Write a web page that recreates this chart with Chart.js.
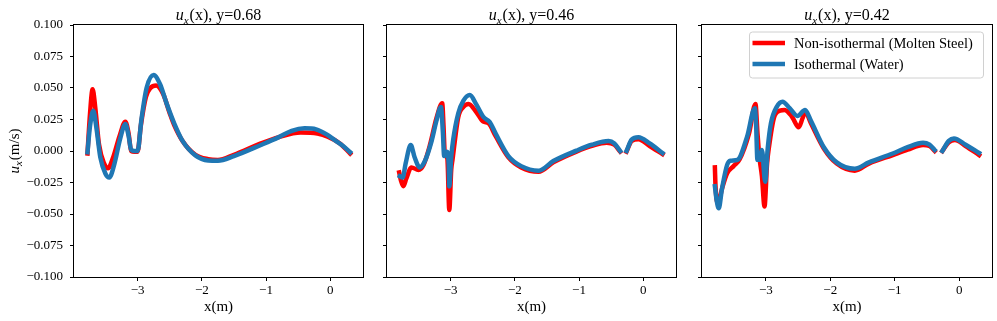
<!DOCTYPE html>
<html>
<head>
<meta charset="utf-8">
<script src="https://cdn.jsdelivr.net/npm/chart.js@4.4.1/dist/chart.umd.min.js"></script>
<style>
  html, body { margin: 0; padding: 0; background: #fff; }
  #wrap { position: relative; width: 997px; height: 321px; }
  .panel { position: absolute; top: 0; }
</style>
</head>
<body>
<div id="wrap">
  <div class="panel" style="left:0px"><canvas id="c1" width="370" height="321"></canvas></div>
  <div class="panel" style="left:377px"><canvas id="c2" width="303" height="321"></canvas></div>
  <div class="panel" style="left:692px"><canvas id="c3" width="305" height="321"></canvas></div>
</div>
<script>
// ticks
const xTicks = [-3, -2, -1, 0];
const yMin = -0.1, yMax = 0.1, yStep = 0.025;

// y = 0.68
const red68X = [-3.78, -3.74, -3.70, -3.66, -3.60, -3.52, -3.46, -3.38, -3.28, -3.19, -3.14, -3.10, -3.05, -3.00, -2.95, -2.87, -2.80, -2.71, -2.60, -2.50, -2.43, -2.30, -2.10, -1.90, -1.75, -1.50, -1.08, -0.80, -0.46, -0.20, -0.04, 0.15, 0.31];
const red68U = [-0.002, 0.030, 0.049, 0.035, 0.005, -0.010, -0.0137, -0.005, 0.012, 0.0233, 0.014, 0.000, -0.0005, -0.0005, 0.020, 0.043, 0.050, 0.052, 0.045, 0.030, 0.0206, 0.008, -0.003, -0.0065, -0.0071, -0.003, 0.006, 0.011, 0.0146, 0.0138, 0.0114, 0.006, -0.002];
const blue68X = [-3.78, -3.74, -3.69, -3.64, -3.58, -3.50, -3.44, -3.36, -3.27, -3.19, -3.14, -3.10, -3.05, -3.00, -2.94, -2.86, -2.75, -2.65, -2.55, -2.43, -2.30, -2.10, -1.90, -1.75, -1.50, -1.08, -0.80, -0.60, -0.40, -0.22, -0.05, 0.06, 0.20, 0.31];
const blue68U = [-0.001, 0.020, 0.032, 0.018, -0.005, -0.018, -0.021, -0.010, 0.010, 0.0214, 0.012, 0.001, 0.000, 0.000, 0.025, 0.050, 0.0603, 0.053, 0.038, 0.022, 0.008, -0.0035, -0.0075, -0.0077, -0.004, 0.0048, 0.011, 0.0160, 0.0180, 0.0172, 0.013, 0.009, 0.004, -0.001];

// y = 0.46
const red46X = [-3.80, -3.77, -3.735, -3.69, -3.61, -3.50, -3.42, -3.32, -3.22, -3.13, -3.11, -3.09, -3.05, -3.02, -2.99, -2.97, -2.88, -2.80, -2.72, -2.60, -2.49, -2.41, -2.30, -2.10, -1.90, -1.63, -1.40, -1.04, -0.80, -0.57, -0.45, -0.36, -0.31, -0.26, -0.18, -0.075, 0.10, 0.30];
const red46U = [-0.017, -0.024, -0.028, -0.022, -0.013, -0.015, -0.011, 0.005, 0.026, 0.0378, 0.020, -0.002, -0.006, -0.0468, -0.015, -0.007, 0.027, 0.035, 0.0373, 0.031, 0.0233, 0.022, 0.012, -0.005, -0.013, -0.0164, -0.009, -0.0005, 0.004, 0.0066, 0.005, -0.0005, null, -0.0005, 0.008, 0.0093, 0.004, -0.0024];
const blue46X = [-3.79, -3.745, -3.70, -3.62, -3.56, -3.48, -3.40, -3.30, -3.22, -3.15, -3.12, -3.10, -3.06, -3.03, -3.02, -2.99, -2.96, -2.88, -2.80, -2.70, -2.60, -2.49, -2.39, -2.30, -2.10, -1.90, -1.63, -1.40, -1.04, -0.80, -0.54, -0.45, -0.36, -0.31, -0.26, -0.18, -0.075, 0.10, 0.30];
const blue46U = [-0.020, -0.021, -0.010, 0.0048, -0.005, -0.013, -0.008, 0.007, 0.024, 0.035, 0.015, -0.004, -0.0005, -0.010, -0.028, -0.005, 0.0087, 0.030, 0.040, 0.0444, 0.037, 0.027, 0.023, 0.014, -0.004, -0.012, -0.0156, -0.008, 0.0003, 0.005, 0.0079, 0.006, 0.000, null, 0.000, 0.009, 0.0109, 0.006, -0.0016];

// y = 0.42
const red42X = [-3.79, -3.78, -3.74, -3.68, -3.60, -3.50, -3.41, -3.26, -3.16, -3.13, -3.10, -3.06, -3.02, -2.98, -2.95, -2.87, -2.78, -2.71, -2.62, -2.58, -2.49, -2.43, -2.39, -2.30, -2.10, -1.90, -1.62, -1.40, -1.03, -0.80, -0.56, -0.46, -0.38, -0.32, -0.26, -0.16, -0.065, 0.10, 0.31];
const red42U = [-0.013, -0.028, -0.0415, -0.030, -0.0177, -0.012, -0.007, 0.014, 0.0373, 0.015, -0.0045, -0.020, -0.044, -0.010, 0.0034, 0.027, 0.032, 0.0325, 0.029, 0.026, 0.0188, 0.026, 0.0312, 0.022, 0.002, -0.010, -0.0156, -0.010, -0.0032, 0.001, 0.0048, 0.004, 0.000, null, 0.000, 0.007, 0.0087, 0.004, -0.0032];
const blue42X = [-3.79, -3.76, -3.73, -3.68, -3.60, -3.55, -3.44, -3.29, -3.17, -3.15, -3.13, -3.09, -3.06, -3.01, -2.97, -2.92, -2.83, -2.74, -2.63, -2.51, -2.39, -2.30, -2.10, -1.90, -1.62, -1.40, -1.03, -0.80, -0.56, -0.46, -0.38, -0.32, -0.26, -0.16, -0.08, 0.10, 0.31];
const blue42U = [-0.028, -0.040, -0.0455, -0.030, -0.011, -0.0077, -0.007, 0.0114, 0.034, 0.020, -0.007, -0.007, 0.0008, -0.0244, 0.002, 0.022, 0.035, 0.0391, 0.034, 0.0278, 0.0325, 0.024, 0.003, -0.009, -0.0141, -0.009, -0.002, 0.003, 0.0066, 0.005, 0.0008, null, 0.000, 0.008, 0.010, 0.005, -0.0016];

const seriesNames = ["Non-isothermal (Molten Steel)", "Isothermal (Water)"];
const seriesColors = ["#ff0000", "#1f77b4"];

const FONT = "'Liberation Serif', 'Times New Roman', serif";

function zip(xs, ys) {
  return xs.map((x, i) => ({ x: x, y: ys[i] }));
}

function minusFmt(v, digits) {
  const s = digits == null ? String(Math.round(Math.abs(v))) : Math.abs(v).toFixed(digits);
  return (v < -1e-9 ? "\u2212" : "") + s;
}

// draws "u_x" + rest, starting at x (baseline y), returns end x
function drawUx(ctx, x, y, size, rest) {
  ctx.font = "italic " + size + "px " + FONT;
  ctx.fillText("u", x, y);
  x += ctx.measureText("u").width;
  const sub = Math.round(size * 0.7);
  ctx.font = "italic " + sub + "px " + FONT;
  ctx.fillText("x", x, y + size * 0.22);
  x += ctx.measureText("x").width + 1;
  ctx.font = size + "px " + FONT;
  ctx.fillText(rest, x, y);
  return x + ctx.measureText(rest).width;
}

function uxWidth(ctx, size, rest) {
  ctx.font = "italic " + size + "px " + FONT;
  let w = ctx.measureText("u").width;
  ctx.font = "italic " + Math.round(size * 0.7) + "px " + FONT;
  w += ctx.measureText("x").width + 1;
  ctx.font = size + "px " + FONT;
  return w + ctx.measureText(rest).width;
}

const decorPlugin = {
  id: "decor",
  afterDraw(chart, args, opts) {
    const ctx = chart.ctx;
    const a = chart.chartArea;
    ctx.save();
    // axes box
    ctx.strokeStyle = "#000";
    ctx.lineWidth = 1;
    ctx.strokeRect(Math.round(a.left) - 0.5, Math.round(a.top) - 0.5,
      Math.round(a.right - a.left) + 1, Math.round(a.bottom - a.top) + 1);
    ctx.fillStyle = "#000";
    ctx.textBaseline = "alphabetic";
    // title
    const rest = "(x), " + opts.title;
    const tw = uxWidth(ctx, 16, rest);
    drawUx(ctx, (a.left + a.right) / 2 - tw / 2, 20, 16, rest);
    // y label
    if (opts.yLabel) {
      ctx.save();
      ctx.translate(19, (a.top + a.bottom) / 2);
      ctx.rotate(-Math.PI / 2);
      const lw = uxWidth(ctx, 15, "(m/s)");
      drawUx(ctx, -lw / 2, 0, 15, "(m/s)");
      ctx.restore();
    }
    // legend
    if (opts.legend) {
      const bx = a.right - 243, by = a.top + 6.5, bw = 234, bh = 46;
      ctx.fillStyle = "rgba(255,255,255,0.8)";
      ctx.strokeStyle = "#d0d0d0";
      ctx.beginPath();
      ctx.roundRect(bx + 0.5, by + 0.5, bw, bh, 3);
      ctx.fill();
      ctx.stroke();
      ctx.font = "14.5px " + FONT;
      ctx.textBaseline = "middle";
      for (let i = 0; i < 2; i++) {
        const ly = by + 11.5 + i * 21;
        ctx.strokeStyle = seriesColors[i];
        ctx.lineWidth = 4.5;
        ctx.beginPath();
        ctx.moveTo(bx + 3.5, ly);
        ctx.lineTo(bx + 36, ly);
        ctx.stroke();
        ctx.fillStyle = "#000";
        ctx.fillText(seriesNames[i], bx + 45, ly + 1);
      }
    }
    ctx.restore();
  }
};

function makeChart(id, redX, redU, blueX, blueU, cfg) {
  const lineBase = {
    borderWidth: 4.5,
    pointRadius: 0,
    fill: false,
    spanGaps: false,
    cubicInterpolationMode: "monotone",
    borderCapStyle: "square",
    borderJoinStyle: "round",
  };
  return new Chart(document.getElementById(id), {
    type: "line",
    data: {
      datasets: [
        Object.assign({ label: seriesNames[0], data: zip(redX, redU), borderColor: seriesColors[0], order: 2 }, lineBase),
        Object.assign({ label: seriesNames[1], data: zip(blueX, blueU), borderColor: seriesColors[1], order: 1 }, lineBase),
      ],
    },
    options: {
      responsive: false,
      animation: false,
      events: [],
      layout: { padding: { top: 25, right: cfg.padRight, bottom: 0, left: 0 } },
      plugins: {
        legend: { display: false },
        tooltip: { enabled: false },
        decor: { title: cfg.title, yLabel: cfg.yLabel, legend: cfg.legend },
      },
      scales: {
        x: {
          type: "linear",
          min: -3.99,
          max: 0.51,
          afterBuildTicks: (s) => { s.ticks = xTicks.map((v) => ({ value: v })); },
          afterFit: (s) => { s.height = 44; },
          grid: { drawOnChartArea: false, drawTicks: true, tickLength: 4, color: "#000" },
          border: { display: false },
          ticks: {
            color: "#000",
            padding: 2,
            maxRotation: 0,
            font: { family: FONT, size: 13 },
            callback: (v) => minusFmt(v),
          },
          title: {
            display: true,
            text: "x(m)",
            color: "#000",
            font: { family: FONT, size: 15 },
            padding: { top: 0, bottom: 5 },
          },
        },
        y: {
          min: yMin,
          max: yMax,
          afterFit: (s) => { s.width = cfg.yWidth; },
          grid: { drawOnChartArea: false, drawTicks: true, tickLength: 4, color: "#000" },
          border: { display: false },
          ticks: {
            stepSize: yStep,
            color: "#000",
            padding: 7,
            font: { family: FONT, size: 13 },
            callback: (v) => (cfg.yLabel ? minusFmt(v, 3) : ""),
          },
        },
      },
    },
    plugins: [decorPlugin],
  });
}

makeChart("c1", red68X, red68U, blue68X, blue68U, { title: "y=0.68", yLabel: true, legend: false, yWidth: 74, padRight: 7 });
makeChart("c2", red46X, red46U, blue46X, blue46U, { title: "y=0.46", yLabel: false, legend: false, yWidth: 10, padRight: 4 });
makeChart("c3", red42X, red42U, blue42X, blue42U, { title: "y=0.42", yLabel: false, legend: true, yWidth: 10, padRight: 5 });
</script>
</body>
</html>
